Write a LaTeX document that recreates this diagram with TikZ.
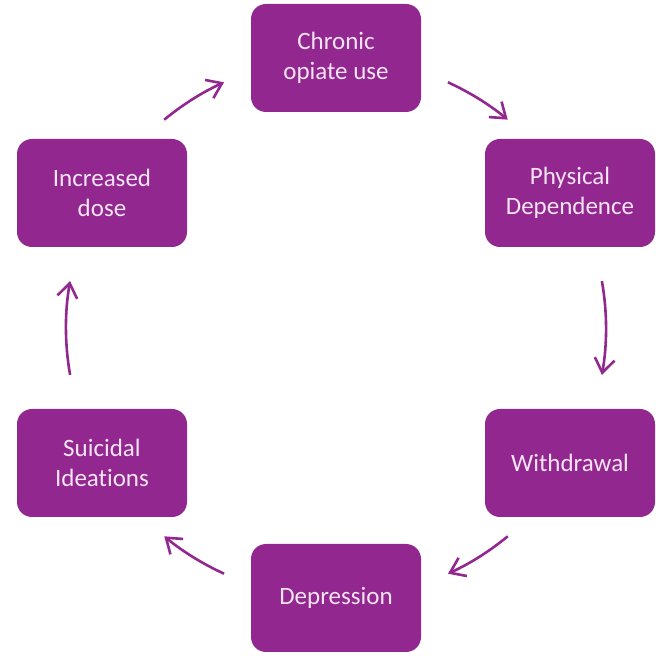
\documentclass[tikz,border=0pt]{standalone}
\usepackage{fontspec}
\setmainfont{Carlito}[Ligatures=CommonOff]
\usetikzlibrary{arrows.meta}
\definecolor{cyclepurple}{HTML}{92278F}
\definecolor{stagetext}{HTML}{F6E4F4}

\begin{document}
\begin{tikzpicture}[x=1pt, y=1pt,
    stage/.style={fill=cyclepurple, rounded corners=15pt, minimum width=170pt, minimum height=108pt,
        text=stagetext, align=center, font=\fontsize{25}{29.5}\selectfont},
    flow/.style={-{Straight Barb[length=14pt,width=20pt]}, line width=2.6pt, cyclepurple}]
    \useasboundingbox (0,0) rectangle (656,656);

    % Stages of the cycle
    \node[stage] (chronic) at (336,598) {Chronic\\opiate use};
    \node[stage] (physical) at (570,463) {Physical\\Dependence};
    \node[stage] (withdrawal) at (570,193) {Withdrawal};
    \node[stage] (depression) at (336,58) {Depression};
    \node[stage] (suicidal) at (102,193) {Suicidal\\Ideations};
    \node[stage] (increased) at (102,463) {Increased\\dose};

    % Arrows round the cycle
    \coordinate (hub) at (336,328);
    \foreach \a/\s in {58/15,0/20,-58/15,-122/15,180/20,122/15}
        \draw[flow] (hub) ++(\a+\s/2:270) arc[start angle=\a+\s/2, delta angle=-\s, radius=270pt];
\end{tikzpicture}
\end{document}
